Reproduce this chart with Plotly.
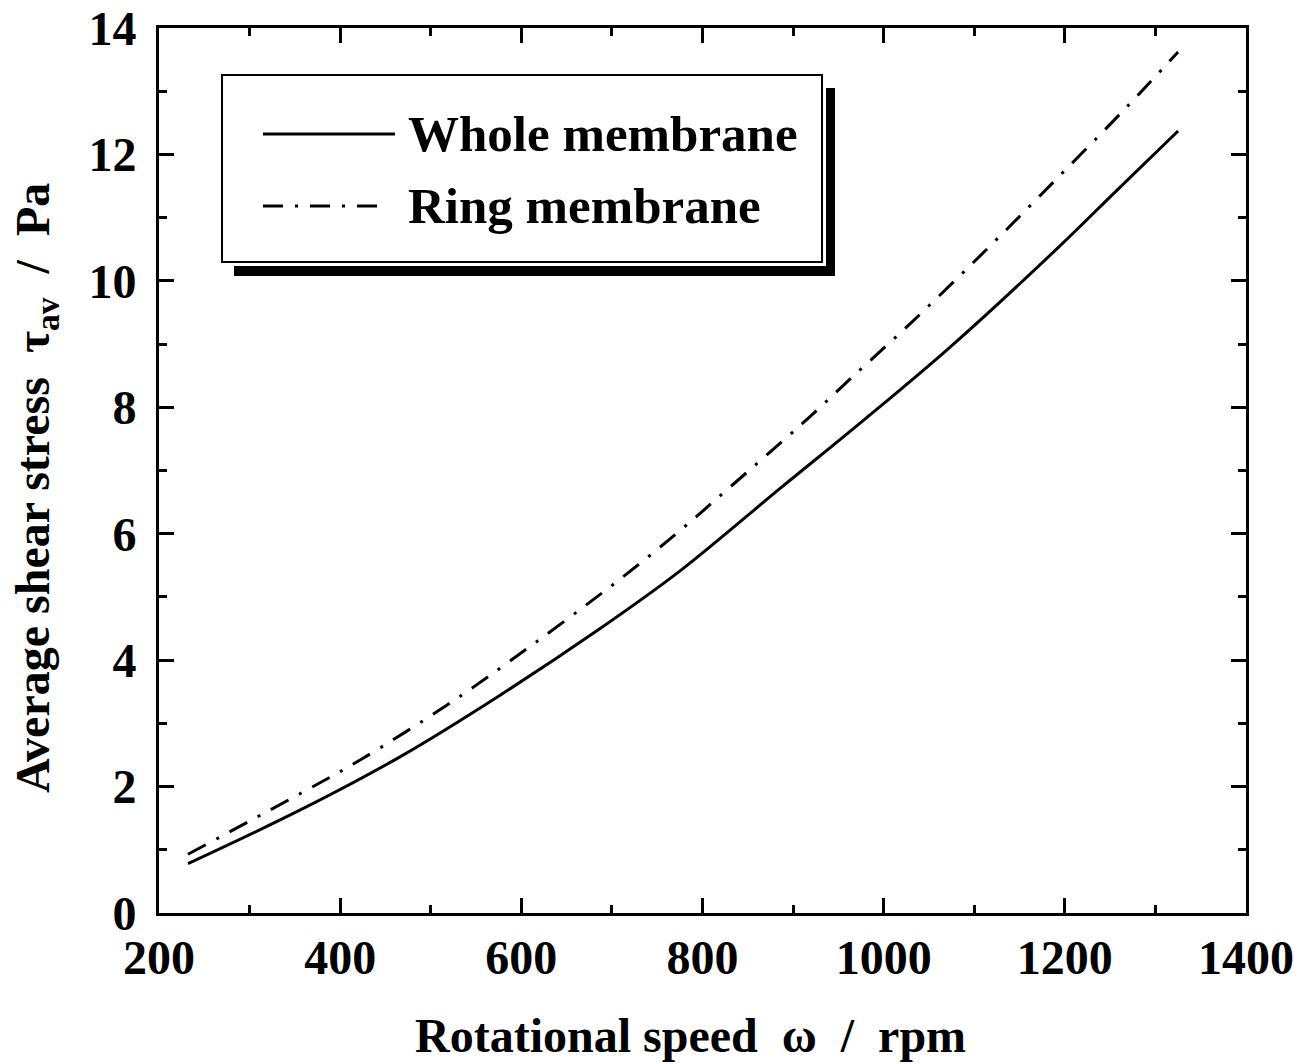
import plotly.graph_objects as go

# Rotational speed (rpm) and average shear stress (Pa) for the two membrane layouts
speed_whole = [232, 356, 466, 577, 687, 776, 886, 980, 1074, 1190, 1258, 1325]
stress_whole = [0.78, 1.63, 2.47, 3.45, 4.50, 5.42, 6.72, 7.82, 8.96, 10.49, 11.44, 12.37]

speed_ring = [232, 356, 422, 518, 585, 708, 776, 829, 910, 964, 1032, 1111, 1190, 1269, 1325]
stress_ring = [0.93, 1.89, 2.42, 3.29, 3.96, 5.27, 6.06, 6.72, 7.74, 8.46, 9.36, 10.46, 11.60, 12.76, 13.62]

series_names = ["Whole membrane", "Ring membrane"]

x_ticks = [200, 400, 600, 800, 1000, 1200, 1400]
y_ticks = [0, 2, 4, 6, 8, 10, 12, 14]

W, H = 1313, 1064
ML, MR, MT, MB = 159, 67, 28, 151
PW, PH = W - ML - MR, H - MT - MB

FONT = "Liberation Serif, Times New Roman, serif"
DASHDOT = "20px,12px,3px,12px"


def px(xp):
    return (xp - ML) / PW


def py(yp):
    return (H - MB - yp) / PH


fig = go.Figure()
fig.add_trace(go.Scatter(x=speed_whole, y=stress_whole, mode="lines", name=series_names[0],
                         line=dict(color="black", width=3, shape="spline", smoothing=1.0),
                         showlegend=False))
fig.add_trace(go.Scatter(x=speed_ring, y=stress_ring, mode="lines", name=series_names[1],
                         line=dict(color="black", width=3, dash=DASHDOT, shape="spline", smoothing=1.0),
                         showlegend=False))

axis_common = dict(
    showgrid=False, zeroline=False, automargin=False,
    showline=True, linecolor="black", linewidth=3, mirror="allticks",
    ticks="inside", ticklen=15, tickwidth=3, tickcolor="black",
    tickfont=dict(family=FONT, size=48, color="black", weight="bold"),
)

fig.update_xaxes(range=[200, 1400], tickvals=x_ticks, ticktext=[str(v) for v in x_ticks],
                 minor=dict(dtick=100, tick0=200, ticks="inside", ticklen=8, tickwidth=3, tickcolor="black"),
                 ticklabelstandoff=0, **axis_common)
fig.update_yaxes(range=[0, 14], tickvals=y_ticks, ticktext=[str(v) for v in y_ticks],
                 minor=dict(dtick=1, tick0=0, ticks="inside", ticklen=8, tickwidth=3, tickcolor="black"),
                 ticklabelstandoff=10, **axis_common)

shapes = []
# legend shadow
shapes.append(dict(type="rect", xref="paper", yref="paper",
                   x0=px(234), x1=px(835), y0=py(276), y1=py(266),
                   fillcolor="black", line=dict(width=0)))
shapes.append(dict(type="rect", xref="paper", yref="paper",
                   x0=px(826), x1=px(835), y0=py(276), y1=py(88),
                   fillcolor="black", line=dict(width=0)))
# legend box
shapes.append(dict(type="rect", xref="paper", yref="paper",
                   x0=px(222), x1=px(822), y0=py(262), y1=py(75),
                   fillcolor="white", line=dict(color="black", width=2)))
# legend samples
shapes.append(dict(type="line", xref="paper", yref="paper",
                   x0=px(263), x1=px(395), y0=py(134), y1=py(134),
                   line=dict(color="black", width=3)))
shapes.append(dict(type="line", xref="paper", yref="paper",
                   x0=px(263), x1=px(386), y0=py(206), y1=py(206),
                   line=dict(color="black", width=3, dash=DASHDOT)))

annotations = [
    dict(text=series_names[0], xref="paper", yref="paper", x=px(406), y=py(134),
         xanchor="left", yanchor="middle", showarrow=False,
         font=dict(family=FONT, size=51, color="black", weight="bold")),
    dict(text=series_names[1], xref="paper", yref="paper", x=px(406), y=py(206),
         xanchor="left", yanchor="middle", showarrow=False,
         font=dict(family=FONT, size=51, color="black", weight="bold")),
    dict(text="Rotational speed\u00a0\u00a0\u03c9\u00a0\u00a0/\u00a0\u00a0rpm",
         xref="paper", yref="paper", x=px(690), y=py(1035),
         xanchor="center", yanchor="middle", showarrow=False,
         font=dict(family=FONT, size=48, color="black", weight="bold")),
    dict(text="Average shear stress\u00a0\u00a0\u03c4<sub>av</sub>\u00a0\u00a0/\u00a0\u00a0Pa",
         xref="paper", yref="paper", x=px(36), y=py(488), textangle=-90,
         xanchor="center", yanchor="middle", showarrow=False,
         font=dict(family=FONT, size=48, color="black", weight="bold")),
]

fig.update_layout(
    width=W, height=H,
    margin=dict(l=ML, r=MR, t=MT, b=MB),
    paper_bgcolor="white", plot_bgcolor="white",
    font=dict(family=FONT, size=48, color="black", weight="bold"),
    shapes=shapes, annotations=annotations, showlegend=False,
)

fig.write_html("out.html")
